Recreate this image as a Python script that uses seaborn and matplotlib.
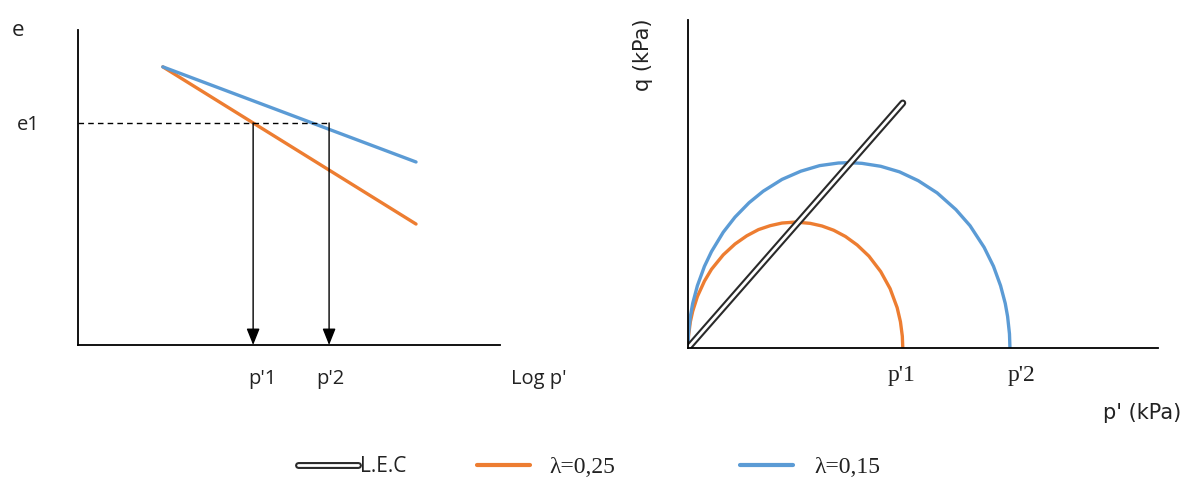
import numpy as np
import pandas as pd
import seaborn as sns
import matplotlib.pyplot as plt
from matplotlib.lines import Line2D
from matplotlib.legend_handler import HandlerTuple

# ---- data (arbitrary units) ----
# left panel: e vs log p'
logp_line = [2.01, 8.01]
e_lam025 = [8.83, 3.84]
e_lam015 = [8.83, 5.81]
e1 = 7.05
p1_log = 4.15
p2_log = 5.95

# right panel: q vs p'
p_orange = [0.0, 0.01, 0.05, 0.1, 0.2, 0.35, 0.5, 0.75, 1.0, 1.25, 1.5, 1.75, 2.0, 2.29,
            2.6, 2.85, 3.1, 3.35, 3.6, 3.85, 4.1, 4.3, 4.45, 4.52, 4.56, 4.57]
q_orange = [0.0, 0.36, 0.80, 1.12, 1.57, 2.04, 2.40, 2.84, 3.17, 3.42, 3.61, 3.73, 3.81, 3.84,
            3.80, 3.72, 3.59, 3.40, 3.14, 2.80, 2.33, 1.81, 1.23, 0.80, 0.36, 0.0]
p_blue = [0.0, 0.01, 0.05, 0.1, 0.2, 0.35, 0.5, 0.75, 1.0, 1.3, 1.6, 2.0, 2.4, 2.8, 3.2, 3.43,
          3.7, 4.1, 4.5, 4.9, 5.3, 5.7, 6.0, 6.3, 6.5, 6.65, 6.75, 6.8, 6.84, 6.85]
q_blue = [0.0, 0.43, 0.96, 1.36, 1.90, 2.49, 2.94, 3.53, 3.99, 4.43, 4.78, 5.14, 5.39, 5.56, 5.64, 5.65,
          5.63, 5.54, 5.37, 5.10, 4.73, 4.22, 3.73, 3.07, 2.49, 1.90, 1.36, 0.96, 0.43, 0.0]
p_lec = [0.0, 4.57]
q_lec = [0.0, 7.47]

ORANGE = '#ED7D31'
BLUE = '#5B9BD5'
LEC = '#2a2a2a'

sns.set_style('white')
plt.rcParams['font.family'] = ['Open Sans', 'DejaVu Sans']

W, H = 1185, 478
fig = plt.figure(figsize=(W / 100, H / 100), dpi=100)
ax1 = fig.add_axes([78 / W, (H - 345) / H, 422 / W, 315 / H])
ax2 = fig.add_axes([688 / W, (H - 348) / H, 470 / W, 328 / H])


def px(x, y):
    # pixel position in the picture -> figure fraction
    return x / W, 1 - y / H


# ---- left panel ----
sns.lineplot(x=logp_line, y=e_lam025, ax=ax1, color=ORANGE, lw=2.4)
sns.lineplot(x=logp_line, y=e_lam015, ax=ax1, color=BLUE, lw=2.4)
ax1.plot([0, p2_log], [e1, e1], color='black', lw=1, ls=(0, (4, 3)))
for xp in [p1_log, p2_log]:
    ax1.annotate('', xy=(xp, 0), xytext=(xp, e1),
                 arrowprops=dict(arrowstyle='-|>,head_length=1.0,head_width=0.4',
                                 color='black', lw=1, shrinkA=0, shrinkB=0))
ax1.set_xlim(0, 10)
ax1.set_ylim(0, 10)
ax1.set_xticks([])
ax1.set_yticks([])

lbl = dict(fontsize=14.5, va='center', ha='center', color='#222222')
fig.text(*px(18, 31), 'e', fontsize=16, va='center', ha='center', color='#222222')
fig.text(*px(28, 125), 'e1', **lbl)
fig.text(*px(262, 379), "p'1", **lbl)
fig.text(*px(330, 379), "p'2", **lbl)
fig.text(*px(539, 379), "Log p'", **lbl)

# ---- right panel ----
sns.lineplot(x=p_orange, y=q_orange, ax=ax2, color=ORANGE, lw=2.4, sort=False)
sns.lineplot(x=p_blue, y=q_blue, ax=ax2, color=BLUE, lw=2.4, sort=False)
ax2.plot(p_lec, q_lec, color=LEC, lw=5, solid_capstyle='round')
ax2.plot(p_lec, q_lec, color='white', lw=2, solid_capstyle='round')
ax2.set_xlim(0, 10)
ax2.set_ylim(0, 10)
ax2.set_xticks([])
ax2.set_yticks([])

serif = dict(fontsize=17, family='Liberation Serif', va='center', ha='center', color='#222222')
fig.text(*px(902, 376), "p'1", **serif)
fig.text(*px(1022, 376), "p'2", **serif)
fig.text(*px(1142, 413), "p' (kPa)", fontsize=15, family='DejaVu Sans',
         va='center', ha='center', color='#222222')
fig.text(*px(643, 55), 'q (kPa)', fontsize=15, family='DejaVu Sans',
         va='center', ha='center', rotation=90, color='#222222')

for ax in [ax1, ax2]:
    sns.despine(ax=ax)
    for s in ['left', 'bottom']:
        ax.spines[s].set_color('black')
        ax.spines[s].set_linewidth(1.3)

# ---- legend (three separate entries, as in the original) ----
lec_handle = (Line2D([], [], color=LEC, lw=5, solid_capstyle='round'),
              Line2D([], [], color='white', lw=2, solid_capstyle='round'))
entries = [
    (lec_handle, 'L.E.C', 298, 60, 0.1, 'Open Sans', 15),
    (Line2D([], [], color=ORANGE, lw=3), 'λ=0,25', 477, 53, 0.8, 'Liberation Serif', 17),
    (Line2D([], [], color=BLUE, lw=3), 'λ=0,15', 740, 53, 0.9, 'Liberation Serif', 17),
]
for handle, text, x0, hlen, pad, fam, fs in entries:
    leg = fig.legend([handle], [text], handler_map={tuple: HandlerTuple(ndivide=1)},
                     loc='center left', bbox_to_anchor=px(x0, 467), frameon=False,
                     borderpad=0, borderaxespad=0,
                     prop={'family': fam, 'size': fs},
                     handlelength=hlen / (fs * 100 / 72), handletextpad=pad)
    leg.get_texts()[0].set_color('#222222')

fig.savefig('out.png', dpi=100)
